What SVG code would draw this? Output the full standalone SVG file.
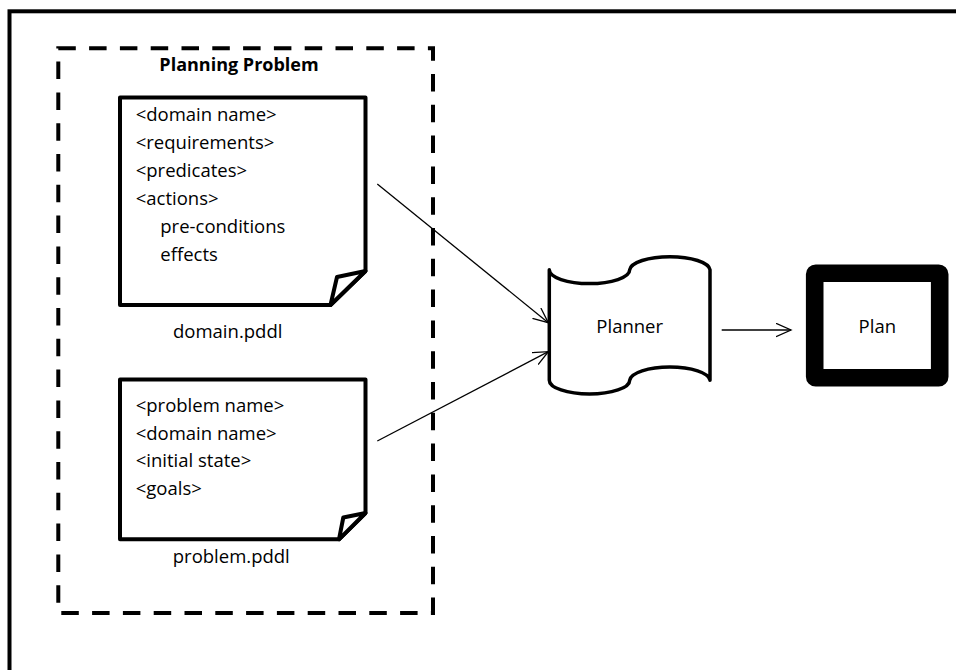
<svg xmlns="http://www.w3.org/2000/svg" width="956" height="670" viewBox="0 0 956 670">
  <style>
    .txt { font-family: "Open Sans", "Liberation Sans", sans-serif; font-size: 18.5px; fill: #000; }
    .bold { font-weight: bold; font-size: 18px; }
    .mid { text-anchor: middle; }
    .doc { fill: #fff; stroke: #000; stroke-width: 4; stroke-linejoin: round; }
    .conn { fill: none; stroke: #000; stroke-width: 1.3; }
  </style>
  <defs>
    <marker id="open-arrow" markerUnits="userSpaceOnUse" markerWidth="20" markerHeight="20" refX="15" refY="7" orient="auto">
      <polyline points="0,0.3 15,7 0,13.7" fill="none" stroke="#000" stroke-width="1.3"/>
    </marker>
  </defs>

  <rect width="956" height="670" fill="#fff"/>

  <!-- outer frame (continues past the right and bottom edges) -->
  <rect x="9.5" y="11.3" width="1000" height="700" fill="none" stroke="#000" stroke-width="4"/>

  <!-- planning problem container -->
  <g id="planning-problem">
    <rect x="58.3" y="48.3" width="374.7" height="564.7" fill="none" stroke="#000" stroke-width="4" stroke-dasharray="17.5 13.3"/>
    <text class="txt bold mid" x="239" y="71">Planning Problem</text>
  </g>

  <!-- domain file -->
  <g id="domain-pddl">
    <path class="doc" d="M120,97.5 H365.5 V271 L330.5,305 H120 Z"/>
    <path class="doc" d="M330.5,305 L365.5,271 L337,277 Z"/>
    <text class="txt" x="135.7" y="120.7">&lt;domain name&gt;</text>
    <text class="txt" x="135.7" y="148.6">&lt;requirements&gt;</text>
    <text class="txt" x="135.7" y="176.6">&lt;predicates&gt;</text>
    <text class="txt" x="135.7" y="204.6">&lt;actions&gt;</text>
    <text class="txt" x="160.3" y="233">pre-conditions</text>
    <text class="txt" x="160.3" y="261.3">effects</text>
    <text class="txt mid" x="227.7" y="338.3">domain.pddl</text>
  </g>

  <!-- problem file -->
  <g id="problem-pddl">
    <path class="doc" d="M120,379.5 H365.5 V513 L339,539.3 H120 Z"/>
    <path class="doc" d="M339,539.3 L365.5,513 L343.3,517.5 Z"/>
    <text class="txt" x="135.7" y="411.7">&lt;problem name&gt;</text>
    <text class="txt" x="135.7" y="439.5">&lt;domain name&gt;</text>
    <text class="txt" x="135.7" y="467.3">&lt;initial state&gt;</text>
    <text class="txt" x="135.7" y="495.2">&lt;goals&gt;</text>
    <text class="txt mid" x="231.3" y="563.3">problem.pddl</text>
  </g>

  <!-- planner (punched tape) -->
  <g id="planner">
    <path d="M549.3,269.8 A40.2,13.8 0 0 0 629.7,269.8 A40.2,13.8 0 0 1 710,269.8 V380.2 A40.2,13.8 0 0 0 629.7,380.2 A40.2,13.8 0 0 1 549.3,380.2 Z" fill="#fff" stroke="#000" stroke-width="3.5" stroke-linejoin="round"/>
    <text class="txt mid" x="629.7" y="332.7">Planner</text>
  </g>

  <!-- plan -->
  <g id="plan">
    <rect x="814.7" y="273.3" width="125" height="104.4" rx="1" fill="#fff" stroke="#000" stroke-width="17.6" stroke-linejoin="round"/>
    <text class="txt mid" x="877.3" y="332.7">Plan</text>
  </g>

  <!-- connectors -->
  <g id="connectors">
    <line class="conn" x1="377.3" y1="184" x2="548.3" y2="322.7" marker-end="url(#open-arrow)"/>
    <line class="conn" x1="377.3" y1="441" x2="548.3" y2="351.7" marker-end="url(#open-arrow)"/>
    <line class="conn" x1="721.7" y1="330" x2="791" y2="330" marker-end="url(#open-arrow)"/>
  </g>
</svg>
